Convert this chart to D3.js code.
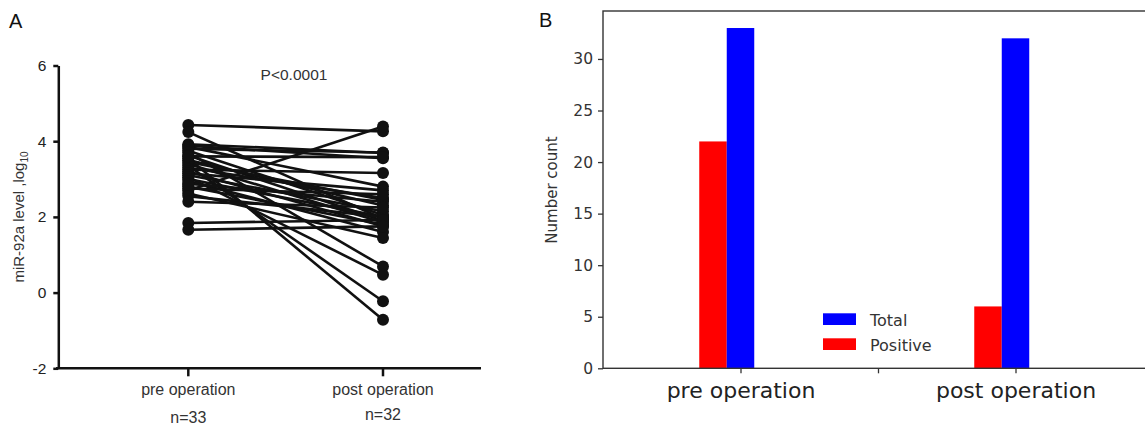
<!DOCTYPE html>
<html>
<head>
<meta charset="utf-8">
<script src="https://cdn.jsdelivr.net/npm/d3@7"></script>
<style>
  body { margin: 0; background: #fff; }
  svg { display: block; }
</style>
</head>
<body>
<div id="chart"></div>
<script>
// Panel A: paired miR-92a levels (log10)
const groupsA = ['pre operation', 'post operation'];
const groupCountsA = ['n=33', 'n=32'];
const preValues = [4.43, 4.24, 3.92, 3.88, 3.85, 3.80, 3.75, 3.70, 3.62, 3.55, 3.50,
  3.45, 3.40, 3.35, 3.30, 3.25, 3.20, 3.15, 3.10, 3.05, 3.00, 2.70, 2.95, 2.88,
  2.80, 2.75, 2.62, 2.55, 2.40, 1.84, 1.66, 3.60, 2.85];
const postValues = [4.26, 1.95, 3.69, 3.55, 2.80, 3.70, 2.05, 0.69, 1.90, -0.72, 2.30,
  2.45, 1.85, -0.23, 2.50, 3.16, 1.75, 2.70, 2.15, 0.47, 2.00, 4.39, 1.60, 2.40,
  1.80, 2.60, 1.44, 2.00, 2.25, 1.92, 1.75, 3.58];
const ticksA = [-2, 0, 2, 4, 6];

// Panel B: counts
const categoriesB = ['pre operation', 'post operation'];
const totalCounts = [33, 32];
const positiveCounts = [22, 6];
const ticksB = [0, 5, 10, 15, 20, 25, 30];

const width = 1145;
const height = 428;

const svg = d3.select('#chart').append('svg')
  .attr('width', width)
  .attr('height', height);

const fontA = '"Liberation Sans", Arial, sans-serif';
const fontB = '"DejaVu Sans", sans-serif';

// ---------- panel A ----------
svg.append('text')
  .attr('x', 9).attr('y', 28)
  .attr('font-family', fontA).attr('font-size', 20)
  .attr('fill', '#111')
  .text('A');

const xA = d3.scalePoint().domain(groupsA).range([188.3, 383]);
const yA = d3.scaleLinear().domain([-2, 6]).range([368.3, 65.5]);

const gA = svg.append('g');

const yAxisA = gA.append('g')
  .attr('transform', 'translate(58.3,0)')
  .call(d3.axisLeft(yA).tickValues(ticksA).tickSize(5).tickSizeOuter(0).tickPadding(7)
    .tickFormat(d => String(d)));
yAxisA.select('.domain').attr('stroke', '#111').attr('stroke-width', 2.5);
yAxisA.selectAll('.tick line').attr('stroke', '#111').attr('stroke-width', 2.5);
yAxisA.selectAll('.tick text')
  .attr('font-family', fontA).attr('font-size', 15.5).attr('fill', '#222');

// x axis line with two downward ticks
gA.append('line')
  .attr('x1', 56).attr('x2', 481)
  .attr('y1', yA(-2)).attr('y2', yA(-2))
  .attr('stroke', '#111').attr('stroke-width', 2.5);

gA.selectAll('.xtickA')
  .data(groupsA)
  .join('line')
  .attr('class', 'xtickA')
  .attr('x1', d => xA(d)).attr('x2', d => xA(d))
  .attr('y1', yA(-2)).attr('y2', yA(-2) + 8)
  .attr('stroke', '#111').attr('stroke-width', 2.5);

gA.selectAll('.xlabelA')
  .data(groupsA)
  .join('text')
  .attr('class', 'xlabelA')
  .attr('x', d => xA(d)).attr('y', 395)
  .attr('text-anchor', 'middle')
  .attr('font-family', fontA).attr('font-size', 16).attr('fill', '#333')
  .text(d => d);

gA.selectAll('.nlabelA')
  .data(groupCountsA)
  .join('text')
  .attr('class', 'nlabelA')
  .attr('x', (d, i) => xA(groupsA[i])).attr('y', (d, i) => i === 0 ? 423 : 420)
  .attr('text-anchor', 'middle')
  .attr('font-family', fontA).attr('font-size', 16).attr('fill', '#333')
  .text(d => d);

// y label with subscript
const yLabelA = gA.append('text')
  .attr('transform', 'translate(24,217) rotate(-90)')
  .attr('text-anchor', 'middle')
  .attr('font-family', fontA).attr('font-size', 15).attr('fill', '#333');
yLabelA.append('tspan').text('miR-92a level ,log');
yLabelA.append('tspan').attr('font-size', 10).attr('dy', 4).text('10');

gA.append('text')
  .attr('x', 294).attr('y', 80)
  .attr('text-anchor', 'middle')
  .attr('font-family', fontA).attr('font-size', 15.5).attr('fill', '#333')
  .text('P<0.0001');

// paired lines
const pairs = postValues.map((v, i) => ({ pre: preValues[i], post: v }));

gA.append('g')
  .selectAll('line')
  .data(pairs)
  .join('line')
  .attr('x1', xA(groupsA[0])).attr('y1', d => yA(d.pre))
  .attr('x2', xA(groupsA[1])).attr('y2', d => yA(d.post))
  .attr('stroke', '#111').attr('stroke-width', 2.6);

gA.append('g')
  .selectAll('circle')
  .data(preValues)
  .join('circle')
  .attr('cx', xA(groupsA[0])).attr('cy', d => yA(d))
  .attr('r', 6).attr('fill', '#111');

gA.append('g')
  .selectAll('circle')
  .data(postValues)
  .join('circle')
  .attr('cx', xA(groupsA[1])).attr('cy', d => yA(d))
  .attr('r', 6).attr('fill', '#111');

// ---------- panel B ----------
svg.append('text')
  .attr('x', 539).attr('y', 27)
  .attr('font-family', fontA).attr('font-size', 20)
  .attr('fill', '#111')
  .text('B');

const xB = d3.scaleLinear().domain([-0.5, 1.5]).range([603, 1153]);
const yB = d3.scaleLinear().domain([0, 34.65]).range([368.3, 11]);

const gB = svg.append('g');

const barW = 0.1;
gB.selectAll('.bar-pos')
  .data(positiveCounts)
  .join('rect')
  .attr('class', 'bar-pos')
  .attr('x', (d, i) => xB(i - 1.5 * barW))
  .attr('width', xB(barW) - xB(0))
  .attr('y', d => yB(d))
  .attr('height', d => yB(0) - yB(d))
  .attr('fill', '#ff0000');

gB.selectAll('.bar-tot')
  .data(totalCounts)
  .join('rect')
  .attr('class', 'bar-tot')
  .attr('x', (d, i) => xB(i - 0.5 * barW))
  .attr('width', xB(barW) - xB(0))
  .attr('y', d => yB(d))
  .attr('height', d => yB(0) - yB(d))
  .attr('fill', '#0000ff');

// frame
const frameColor = '#333';
gB.append('rect')
  .attr('x', xB(-0.5)).attr('y', yB(34.65))
  .attr('width', xB(1.5) - xB(-0.5))
  .attr('height', yB(0) - yB(34.65))
  .attr('fill', 'none')
  .attr('stroke', frameColor).attr('stroke-width', 1.4);

const yAxisB = gB.append('g')
  .attr('transform', `translate(${xB(-0.5)},0)`)
  .call(d3.axisLeft(yB).tickValues(ticksB).tickSize(5).tickSizeOuter(0).tickPadding(5));
yAxisB.select('.domain').remove();
yAxisB.selectAll('.tick line').attr('stroke', frameColor).attr('stroke-width', 1.3);
yAxisB.selectAll('.tick text')
  .attr('font-family', fontB).attr('font-size', 15.5).attr('fill', '#333');

const xTicksB = [0, 0.5, 1];
const xAxisB = gB.append('g')
  .attr('transform', `translate(0,${yB(0)})`)
  .call(d3.axisBottom(xB).tickValues(xTicksB).tickSize(5).tickSizeOuter(0).tickPadding(9)
    .tickFormat(d => d === 0 ? categoriesB[0] : d === 1 ? categoriesB[1] : ''));
xAxisB.select('.domain').remove();
xAxisB.selectAll('.tick line').attr('stroke', frameColor).attr('stroke-width', 1.3);
xAxisB.selectAll('.tick text')
  .attr('font-family', fontB).attr('font-size', 22).attr('fill', '#222');

gB.append('text')
  .attr('transform', 'translate(557,190) rotate(-90)')
  .attr('text-anchor', 'middle')
  .attr('font-family', fontB).attr('font-size', 15).attr('fill', '#333')
  .text('Number count');

// legend
const legendItems = [
  { label: 'Total', color: '#0000ff' },
  { label: 'Positive', color: '#ff0000' }
];
const legend = gB.append('g')
  .selectAll('g')
  .data(legendItems)
  .join('g')
  .attr('transform', (d, i) => `translate(823,${313.3 + i * 25})`);
legend.append('rect')
  .attr('width', 33).attr('height', 11.7)
  .attr('fill', d => d.color);
legend.append('text')
  .attr('x', 47).attr('y', 12.7)
  .attr('font-family', fontB).attr('font-size', 16).attr('fill', '#333')
  .text(d => d.label);
</script>
</body>
</html>
